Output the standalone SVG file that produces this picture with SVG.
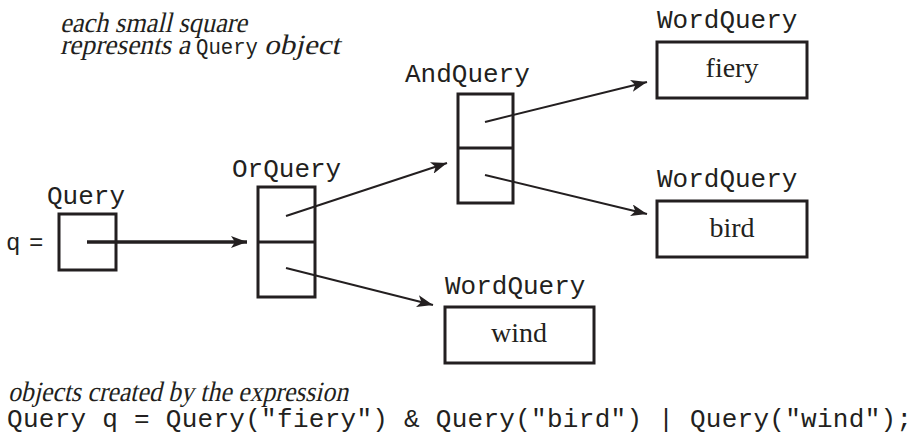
<svg xmlns="http://www.w3.org/2000/svg" width="921" height="434" viewBox="0 0 921 434">
<defs>
<style>
.box{fill:none;stroke:#231f20;stroke-width:3}
.mono{font-family:"Liberation Mono","Courier New",monospace;fill:#231f20}
.lbl{font-size:26px}
.it{font-family:"Liberation Serif","Times New Roman",serif;font-size:28px;fill:#231f20}
.word{font-family:"Liberation Serif","Times New Roman",serif;font-size:28px;fill:#231f20;text-anchor:middle}
.conn{stroke:#231f20;stroke-width:2;fill:none;marker-end:url(#ah)}
</style>
<marker id="ah" markerUnits="userSpaceOnUse" markerWidth="18" markerHeight="12" refX="16" refY="6" orient="auto">
<path d="M0,0 L16,6 L0,12 L4,6 Z" fill="#231f20"/>
</marker>
</defs>
<rect width="921" height="434" fill="#fff"/>

<g transform="translate(60,32) skewX(-13)"><text class="it" x="0" y="0" textLength="187" lengthAdjust="spacingAndGlyphs">each small square</text></g>
<g transform="translate(60,54) skewX(-13)"><text class="it" x="0" y="0" textLength="130" lengthAdjust="spacingAndGlyphs">represents a</text></g>
<text class="mono" x="196" y="54" font-size="22" textLength="62" lengthAdjust="spacingAndGlyphs">Query</text>
<g transform="translate(264,54) skewX(-13)"><text class="it" x="0" y="0" textLength="76" lengthAdjust="spacingAndGlyphs">object</text></g>

<g id="query">
<text class="mono" y="250" font-size="24"><tspan x="6">q</tspan><tspan x="29">=</tspan></text>
<text class="mono lbl" x="47" y="204">Query</text>
<rect class="box" x="59" y="214" width="57" height="56"/>
</g>

<g id="orquery">
<text class="mono lbl" x="232" y="177">OrQuery</text>
<rect class="box" x="258" y="187" width="57" height="110"/>
<line class="box" x1="258" y1="242" x2="315" y2="242"/>
</g>

<g id="andquery">
<text class="mono lbl" x="405" y="82">AndQuery</text>
<rect class="box" x="458" y="94" width="55" height="109"/>
<line class="box" x1="458" y1="148" x2="513" y2="148"/>
</g>

<g id="word-fiery">
<text class="mono lbl" x="657" y="28">WordQuery</text>
<rect class="box" x="657" y="42" width="150" height="56"/>
<text class="word" x="732" y="77">fiery</text>
</g>

<g id="word-bird">
<text class="mono lbl" x="657" y="187">WordQuery</text>
<rect class="box" x="657" y="201" width="150" height="56"/>
<text class="word" x="732" y="237">bird</text>
</g>

<g id="word-wind">
<text class="mono lbl" x="445" y="294">WordQuery</text>
<rect class="box" x="445" y="307" width="149" height="56"/>
<text class="word" x="519" y="342">wind</text>
</g>

<g id="connectors">
<line class="conn" x1="87" y1="242" x2="247" y2="242" style="stroke-width:3.5"/>
<line class="conn" x1="286" y1="216" x2="447" y2="163"/>
<line class="conn" x1="286" y1="268" x2="433" y2="305"/>
<line class="conn" x1="485" y1="122" x2="647" y2="82"/>
<line class="conn" x1="485" y1="175" x2="647" y2="214"/>
</g>

<g transform="translate(8,401) skewX(-13)"><text class="it" x="0" y="0" textLength="340" lengthAdjust="spacingAndGlyphs">objects created by the expression</text></g>
<text class="mono" x="7" y="427" font-size="26" textLength="905" lengthAdjust="spacing" xml:space="preserve">Query q = Query("fiery") &amp; Query("bird") | Query("wind");</text>
</svg>
